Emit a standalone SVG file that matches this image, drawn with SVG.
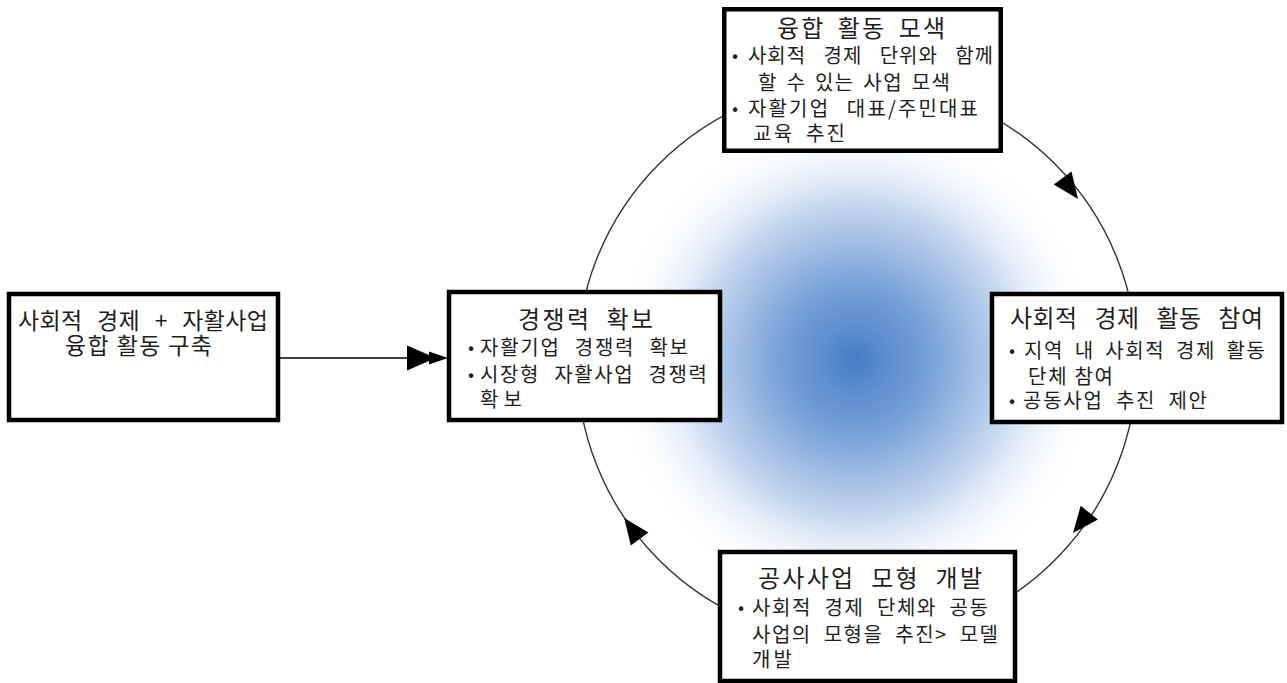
<svg xmlns="http://www.w3.org/2000/svg" width="1287" height="683" viewBox="0 0 1287 683">
<defs>
<radialGradient id="glow" cx="855" cy="360" r="245" gradientUnits="userSpaceOnUse">
<stop offset="0" stop-color="#477ec6"/>
<stop offset="0.3" stop-color="#76a0d7"/>
<stop offset="0.65" stop-color="#c8d9ef"/>
<stop offset="1" stop-color="#ffffff" stop-opacity="0"/>
</radialGradient>
<style>
.box{fill:#fff;stroke:#000;stroke-width:4.5}
.t{font-family:"Noto Sans CJK KR","Noto Sans",sans-serif;fill:#1e1e1e}
.h{font-size:24px}
.hl{font-size:23px}
.b{font-size:20px}
.d{font-size:18px}
.ring{fill:none;stroke:#333;stroke-width:1.4}
.ah{fill:#000}
.ln{stroke:#000;stroke-width:1.5}
</style>
</defs>
<rect width="1287" height="683" fill="#fff"/>
<circle cx="855" cy="360" r="245" fill="url(#glow)"/>
<g id="connectors">
<circle class="ring" cx="857" cy="362" r="280"/>
<polygon class="ah" points="1078,199 1071.5,171.5 1053.7,184.5"/>
<polygon class="ah" points="1073,533 1097.9,519.6 1080.7,505.8"/>
<polygon class="ah" points="624.2,518 648.4,532.5 630.8,545.5"/>
<line class="ln" x1="280" y1="358" x2="420" y2="358"/>
<polygon class="ah" points="407,345.5 436,358 407,370.5"/>
<polygon class="ah" points="429,351.5 448,358 429,364.5"/>
</g>
<g id="node-left">
<rect class="box" x="9" y="294" width="269" height="126"/>
<text class="t hl" x="18" y="329" word-spacing="9" textLength="250" lengthAdjust="spacing">사회적 경제 + 자활사업</text>
<text class="t hl" x="65" y="354" textLength="147" lengthAdjust="spacing">융합 활동 구축</text>
</g>
<g id="node-center">
<rect class="box" x="449" y="292" width="271" height="128"/>
<text class="t h" x="518" y="328" word-spacing="7" textLength="135" lengthAdjust="spacing">경쟁력 확보</text>
<text class="t d" x="468" y="354">•</text>
<text class="t b" x="480" y="355" word-spacing="8" textLength="208" lengthAdjust="spacing">자활기업 경쟁력 확보</text>
<text class="t d" x="468" y="381">•</text>
<text class="t b" x="480" y="382" word-spacing="8" textLength="227" lengthAdjust="spacing">시장형 자활사업 경쟁력</text>
<text class="t b" x="480" y="407" textLength="42" lengthAdjust="spacing">확보</text>
</g>
<g id="node-top">
<rect class="box" x="724.25" y="9.25" width="276.5" height="141.5"/>
<text class="t h" x="777" y="37" word-spacing="5" textLength="168" lengthAdjust="spacing">융합 활동 모색</text>
<text class="t d" x="732" y="62">•</text>
<text class="t b" x="748" y="63" word-spacing="12" textLength="245" lengthAdjust="spacing">사회적 경제 단위와 함께</text>
<text class="t b" x="758" y="90" word-spacing="2.5" textLength="192" lengthAdjust="spacing">할 수 있는 사업 모색</text>
<text class="t d" x="732" y="115">•</text>
<text class="t b" x="748" y="116" word-spacing="10" textLength="230" lengthAdjust="spacing">자활기업 대표/주민대표</text>
<text class="t b" x="753" y="141" word-spacing="5" textLength="92" lengthAdjust="spacing">교육 추진</text>
</g>
<g id="node-right">
<rect class="box" x="992" y="294" width="290" height="128"/>
<text class="t h" x="1010" y="327" word-spacing="11" textLength="253" lengthAdjust="spacing">사회적 경제 활동 참여</text>
<text class="t d" x="1009" y="357">•</text>
<text class="t b" x="1024" y="358" word-spacing="4.5" textLength="241" lengthAdjust="spacing">지역 내 사회적 경제 활동</text>
<text class="t b" x="1028" y="384" textLength="85" lengthAdjust="spacing">단체 참여</text>
<text class="t d" x="1009" y="407">•</text>
<text class="t b" x="1023" y="408" word-spacing="6" textLength="184" lengthAdjust="spacing">공동사업 추진 제안</text>
</g>
<g id="node-bottom">
<rect class="box" x="720" y="552" width="295" height="129"/>
<text class="t h" x="758" y="587" word-spacing="8" textLength="224" lengthAdjust="spacing">공사사업 모형 개발</text>
<text class="t d" x="738" y="614">•</text>
<text class="t b" x="752" y="615" word-spacing="6.5" textLength="236" lengthAdjust="spacing">사회적 경제 단체와 공동</text>
<text class="t b" x="752" y="642" word-spacing="6" textLength="246" lengthAdjust="spacing">사업의 모형을 추진&gt; 모델</text>
<text class="t b" x="752" y="667" textLength="40" lengthAdjust="spacing">개발</text>
</g>
</svg>
